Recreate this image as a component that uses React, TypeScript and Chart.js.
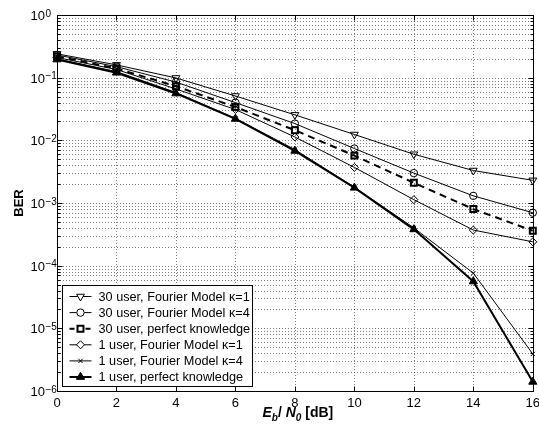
import React, { useEffect, useRef } from 'react';
import { Chart, registerables } from 'chart.js';
import { drawPoint } from 'chart.js/helpers';

Chart.register(...registerables);

// ---- data ----
const ebn0 = [0, 2, 4, 6, 8, 10, 12, 14, 16];
const ber30UserK1 = [0.24, 0.16, 0.099, 0.051, 0.0255, 0.0124, 0.006, 0.0033, 0.0023];
const ber30UserK4 = [0.23, 0.15, 0.085, 0.04, 0.0185, 0.0074, 0.003, 0.0013, 0.0007];
const ber30UserPerfect = [0.22, 0.14, 0.073, 0.034, 0.0145, 0.0057, 0.0021, 0.0008, 0.00036];
const ber1UserK1 = [0.21, 0.135, 0.066, 0.031, 0.0113, 0.0037, 0.00113, 0.00037, 0.00024];
const ber1UserK4 = [0.2, 0.125, 0.058, 0.0225, 0.0071, 0.0018, 0.0004, 0.000076, 0.0000039];
const ber1UserPerfect = [0.195, 0.12, 0.056, 0.022, 0.0068, 0.00175, 0.00038, 0.000056, 0.0000014];

const seriesLabels = [
  '30 user, Fourier Model \u03BA=1',
  '30 user, Fourier Model \u03BA=4',
  '30 user, perfect knowledge',
  '1 user, Fourier Model \u03BA=1',
  '1 user, Fourier Model \u03BA=4',
  '1 user, perfect knowledge',
];
const seriesValues = [ber30UserK1, ber30UserK4, ber30UserPerfect, ber1UserK1, ber1UserK4, ber1UserPerfect];

const xTicks = [0, 2, 4, 6, 8, 10, 12, 14, 16];
const yExponents = [0, -1, -2, -3, -4, -5, -6];

// ---- styles ----
const seriesStyles = [
  { pointStyle: 'triangle', rotation: 180, radius: 4.5, filled: false, lineWidth: 1, dash: [] as number[] },
  { pointStyle: 'circle', rotation: 0, radius: 3.7, filled: false, lineWidth: 1, dash: [] as number[] },
  { pointStyle: 'rect', rotation: 0, radius: 4.2, filled: false, lineWidth: 2, dash: [7, 5] },
  { pointStyle: 'rectRot', rotation: 0, radius: 4, filled: false, lineWidth: 1, dash: [] as number[] },
  { pointStyle: 'crossRot', rotation: 0, radius: 3, filled: false, lineWidth: 1, dash: [] as number[] },
  { pointStyle: 'triangle', rotation: 0, radius: 4.7, filled: true, lineWidth: 2, dash: [] as number[] },
];
const markerBorder = [1, 1, 2, 1, 1, 1];

const FONT = '"Liberation Sans", Arial, Helvetica, sans-serif';

const matlabAxes = {
  id: 'matlabAxes',
  beforeDatasetsDraw(chart: any) {
    const { ctx, chartArea, scales } = chart;
    const { left, right, top, bottom } = chartArea;
    const x = scales.x;
    const y = scales.y;
    ctx.save();
    ctx.strokeStyle = 'rgba(0,0,0,0.5)';
    ctx.lineWidth = 1;
    ctx.setLineDash([1, 2]);
    for (const xt of xTicks) {
      const px = Math.round(x.getPixelForValue(xt)) + 0.5;
      if (px <= left + 1 || px >= right - 1) continue;
      ctx.beginPath();
      ctx.moveTo(px, top);
      ctx.lineTo(px, bottom);
      ctx.stroke();
    }
    for (let n = -6; n <= -1; n++) {
      for (let k = 1; k <= 9; k++) {
        const v = k * Math.pow(10, n);
        const py = Math.round(y.getPixelForValue(v)) + 0.5;
        if (py >= bottom - 1 || py <= top + 1) continue;
        ctx.beginPath();
        ctx.moveTo(left, py);
        ctx.lineTo(right, py);
        ctx.stroke();
      }
    }
    ctx.restore();
  },
  afterDatasetsDraw(chart: any) {
    const { ctx, chartArea, scales } = chart;
    const { left, right, top, bottom } = chartArea;
    const x = scales.x;
    const y = scales.y;
    ctx.save();
    ctx.setLineDash([]);
    ctx.strokeStyle = '#000';
    ctx.lineWidth = 1;
    const L = Math.round(left) + 0.5;
    const R = Math.round(right) + 0.5;
    const T = Math.round(top) + 0.5;
    const B = Math.round(bottom) + 0.5;
    ctx.strokeRect(L, T, R - L, B - T);
    ctx.beginPath();
    for (const xt of xTicks) {
      const px = Math.round(x.getPixelForValue(xt)) + 0.5;
      ctx.moveTo(px, B); ctx.lineTo(px, B - 5);
      ctx.moveTo(px, T); ctx.lineTo(px, T + 5);
    }
    for (let n = -6; n <= 0; n++) {
      for (let k = 1; k <= 9; k++) {
        if (n === 0 && k > 1) break;
        const v = k * Math.pow(10, n);
        const py = Math.round(y.getPixelForValue(v)) + 0.5;
        const len = k === 1 ? 5 : 3;
        ctx.moveTo(L, py); ctx.lineTo(L + len, py);
        ctx.moveTo(R, py); ctx.lineTo(R - len, py);
      }
    }
    ctx.stroke();

    // y tick labels 10^n
    ctx.fillStyle = '#000';
    for (const e of yExponents) {
      const py = y.getPixelForValue(Math.pow(10, e));
      ctx.font = `13px ${FONT}`;
      ctx.textAlign = 'right';
      ctx.textBaseline = 'alphabetic';
      ctx.fillText('10', 45, py + 5);
      ctx.font = `10px ${FONT}`;
      ctx.textAlign = 'left';
      ctx.fillText(e === 0 ? '0' : '\u2212' + String(-e), 45.5, py + 1.5);
    }

    // y title
    ctx.save();
    ctx.translate(19, (top + bottom) / 2);
    ctx.rotate(-Math.PI / 2);
    ctx.font = `bold 13px ${FONT}`;
    ctx.textAlign = 'center';
    ctx.textBaseline = 'middle';
    ctx.fillText('BER', 0, 0);
    ctx.restore();

    // x title  E_b/ N_0 [dB]
    const parts = [
      { t: 'E', it: true, sub: false },
      { t: 'b', it: true, sub: true },
      { t: '/ ', it: false, sub: false },
      { t: 'N', it: true, sub: false },
      { t: '0', it: true, sub: true },
      { t: ' [dB]', it: false, sub: false },
    ];
    const fontOf = (p: any) => `${p.it ? 'italic ' : ''}bold ${p.sub ? 10 : 14}px ${FONT}`;
    let total = 0;
    for (const p of parts) { ctx.font = fontOf(p); total += ctx.measureText(p.t).width; }
    let cx = (left + right) / 2 - total / 2 + 3;
    const base = 417;
    ctx.textAlign = 'left';
    ctx.textBaseline = 'alphabetic';
    for (const p of parts) {
      ctx.font = fontOf(p);
      ctx.fillText(p.t, cx, p.sub ? base + 3.5 : base);
      cx += ctx.measureText(p.t).width;
    }
    ctx.restore();
  },
  afterDraw(chart: any) {
    const { ctx, chartArea } = chart;
    const { left, bottom } = chartArea;
    const bx = Math.round(left) + 5.5;
    const by = Math.round(bottom) - 105.5;
    const bw = 190;
    const bh = 101;
    ctx.save();
    ctx.fillStyle = '#fff';
    ctx.fillRect(bx, by, bw, bh);
    ctx.strokeStyle = '#000';
    ctx.lineWidth = 1;
    ctx.setLineDash([]);
    ctx.strokeRect(bx, by, bw, bh);
    seriesLabels.forEach((label, i) => {
      const st = seriesStyles[i];
      const ry = by + 11 + i * 16.1;
      ctx.save();
      ctx.lineWidth = st.lineWidth;
      ctx.setLineDash(st.dash.length ? [5, 3] : []);
      ctx.beginPath();
      ctx.moveTo(bx + 7, ry);
      ctx.lineTo(bx + 29, ry);
      ctx.stroke();
      ctx.restore();
      ctx.save();
      ctx.fillStyle = st.filled ? '#000' : '#fff';
      ctx.strokeStyle = '#000';
      ctx.lineWidth = markerBorder[i];
      drawPoint(ctx, { pointStyle: st.pointStyle, rotation: st.rotation, radius: st.radius, borderWidth: markerBorder[i] } as any, bx + 18, ry);
      ctx.restore();
      ctx.fillStyle = '#000';
      ctx.font = `12.7px ${FONT}`;
      ctx.textAlign = 'left';
      ctx.textBaseline = 'middle';
      ctx.fillText(label, bx + 36, ry + 0.5);
    });
    ctx.restore();
  },
};

export default function App() {
  const canvasRef = useRef<HTMLCanvasElement | null>(null);

  useEffect(() => {
    if (!canvasRef.current) return;
    const datasets = seriesValues.map((vals, i) => {
      const st = seriesStyles[i];
      return {
        label: seriesLabels[i],
        data: ebn0.map((x, j) => ({ x, y: vals[j] })),
        borderColor: '#000',
        backgroundColor: '#000',
        borderWidth: st.lineWidth,
        borderDash: st.dash,
        pointStyle: st.pointStyle as any,
        rotation: st.rotation,
        pointRadius: st.radius,
        pointHoverRadius: st.radius,
        pointBorderWidth: markerBorder[i],
        pointBorderColor: '#000',
        pointBackgroundColor: st.filled ? '#000' : 'rgba(0,0,0,0)',
        tension: 0,
        fill: false,
        clip: false as any,
      };
    });
    const chart = new Chart(canvasRef.current, {
      type: 'line',
      data: { datasets },
      options: {
        animation: false,
        responsive: false,
        devicePixelRatio: 1,
        layout: { padding: { left: 0, top: 15, right: 6, bottom: 0 } },
        plugins: { legend: { display: false }, tooltip: { enabled: false } },
        events: [],
        scales: {
          x: {
            type: 'linear',
            min: 0,
            max: 16,
            grid: { display: false, drawTicks: false },
            border: { display: false },
            ticks: {
              stepSize: 2,
              color: '#000',
              font: { family: FONT, size: 13 },
              padding: 5,
              maxRotation: 0,
              autoSkip: false,
            },
            afterFit: (scale: any) => {
              scale.height = 39;
              scale.paddingLeft = 0;
              scale.paddingRight = 0;
            },
          },
          y: {
            type: 'logarithmic',
            min: 1e-6,
            max: 1,
            grid: { display: false, drawTicks: false },
            border: { display: false },
            ticks: { display: false },
            afterFit: (scale: any) => {
              scale.width = 57;
              scale.paddingTop = 0;
              scale.paddingBottom = 0;
            },
          },
        },
      },
      plugins: [matlabAxes],
    });
    return () => chart.destroy();
  }, []);

  return (
    <div style={{ position: 'absolute', left: 0, top: 0, width: 539, height: 430, background: '#fff' }}>
      <canvas ref={canvasRef} width={539} height={430} style={{ display: 'block' }} />
    </div>
  );
}
